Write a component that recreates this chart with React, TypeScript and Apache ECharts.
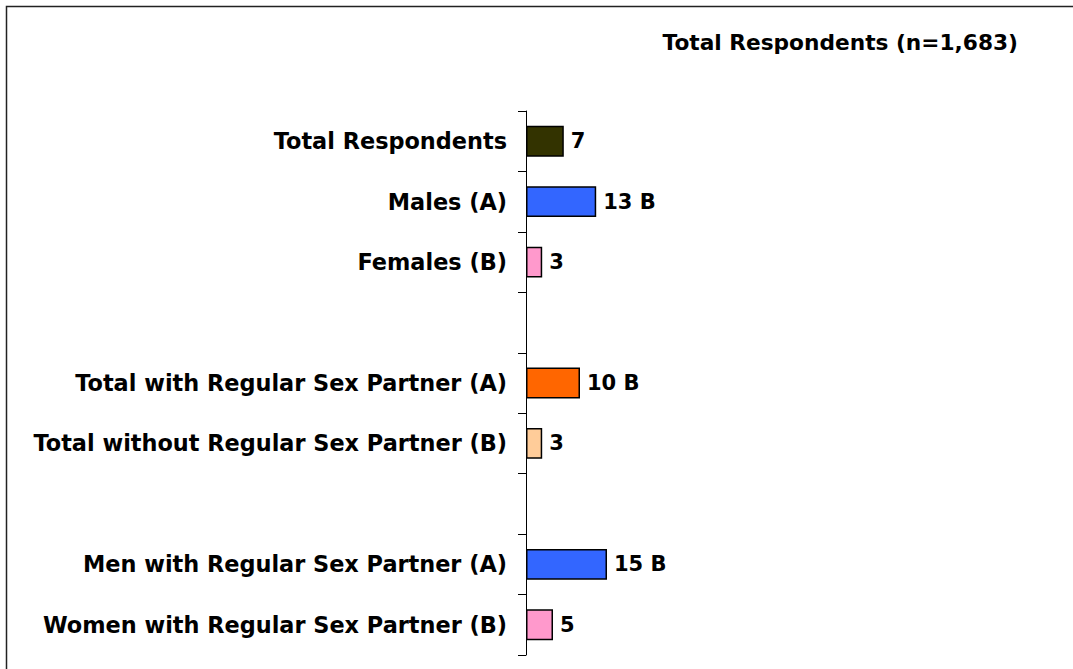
import React, { useEffect, useRef } from "react";
import * as echarts from "echarts";

const categories = [
  "Total Respondents",
  "Males (A)",
  "Females (B)",
  "",
  "Total with Regular Sex Partner (A)",
  "Total without Regular Sex Partner (B)",
  "",
  "Men with Regular Sex Partner (A)",
  "Women with Regular Sex Partner (B)",
];
const values: (number | null)[] = [7, 13, 3, null, 10, 3, null, 15, 5];
const sigLetters = ["", "B", "", "", "B", "", "", "B", ""];
const barColors = ["#333300", "#3366FF", "#FF99CC", "#FFFFFF", "#FF6600", "#FFCC99", "#FFFFFF", "#3366FF", "#FF99CC"];
const titleText = "Total Respondents (n=1,683)";

const FONT = "DejaVu Sans";

export default function App() {
  const ref = useRef<HTMLDivElement>(null);
  useEffect(() => {
    document.body.style.margin = "0";
    const chart = echarts.init(ref.current!, null, { renderer: "svg" });
    chart.setOption({
      animation: false,
      backgroundColor: "#ffffff",
      grid: { left: 526, right: 7, top: 111, bottom: 14, containLabel: false },
      xAxis: { type: "value", min: 0, max: 100, show: false },
      yAxis: {
        type: "category",
        inverse: true,
        data: categories,
        axisLine: { show: true, lineStyle: { color: "#000", width: 1 } },
        axisTick: { show: true, length: 8, alignWithLabel: false, interval: 0, lineStyle: { color: "#000" } },
        axisLabel: {
          interval: 0,
          margin: 19,
          color: "#000",
          fontSize: 22.4,
          fontWeight: "bold",
          fontFamily: FONT,
        },
        splitLine: { show: false },
      },
      series: [
        {
          type: "bar",
          barWidth: "51%",
          data: values.map((v, i) => ({
            value: v,
            itemStyle: { color: barColors[i], borderColor: "#000", borderWidth: 1.5 },
          })),
          label: {
            show: true,
            position: "right",
            distance: 7,
            color: "#000",
            fontSize: 21,
            fontWeight: "bold",
            fontFamily: FONT,
            formatter: (p: any) =>
              p.value == null ? "" : sigLetters[p.dataIndex] ? `${p.value} ${sigLetters[p.dataIndex]}` : `${p.value}`,
          },
        },
      ],
      graphic: [
        {
          type: "rect",
          shape: { x: 6.5, y: 6.5, width: 1200, height: 800 },
          style: { fill: "none", stroke: "#222", lineWidth: 1.5 },
          silent: true,
        },
        {
          type: "text",
          x: 1018,
          y: 42,
          style: {
            text: titleText,
            fill: "#000",
            font: `bold 21.7px "${FONT}"`,
            textAlign: "right",
            textVerticalAlign: "middle",
          },
        },
      ],
    });
    return () => chart.dispose();
  }, []);
  return <div ref={ref} style={{ position: "absolute", left: 0, top: 0, width: 1073, height: 669 }} />;
}
